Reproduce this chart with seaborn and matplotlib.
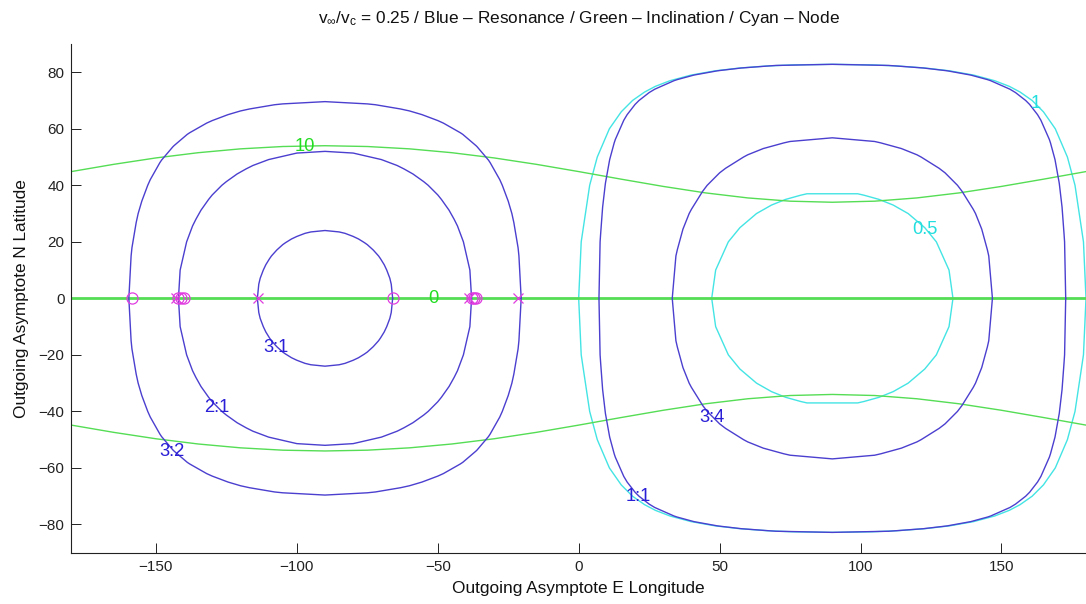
import numpy as np
import matplotlib
matplotlib.use("Agg")
import matplotlib.pyplot as plt
import seaborn as sns

# ---- contour data (one quadrant per closed contour: latitude and half-width in longitude) ----
# resonance contours around the minimum-energy direction (lon -90)
res_3_1_lat = [0, 5, 7.1, 10, 11.9, 14, 15, 17, 17.2, 19, 19.7, 21, 21.9, 23, 23.5, 24.0]
res_3_1_hw = [24.0, 23.5, 23.0, 21.9, 21.0, 19.7, 19.0, 17.2, 17.0, 15.0, 14.0, 11.9, 10.0, 7.1, 5.0, 0.0]
res_2_1_lat = [0, 10, 20, 25.6, 28, 31.2, 35, 36.6, 40, 41.3, 44, 45.8, 47, 49.1, 51.4, 52.0]
res_2_1_hw = [52.0, 51.4, 49.1, 47.0, 45.8, 44.0, 41.3, 40.0, 36.6, 35.0, 31.2, 28.0, 25.6, 20.0, 10.0, 0.0]
res_3_2_lat = [0, 15, 17.9, 26.8, 30, 34.4, 40, 42.0, 48, 48.9, 53.6, 54, 58, 58.6, 62, 62.9,
               65, 66.3, 67, 68.5, 68.8, 69.6]
res_3_2_hw = [69.6, 68.8, 68.5, 67.0, 66.3, 65.0, 62.9, 62.0, 58.6, 58.0, 54.0, 53.6, 48.9, 48.0,
              42.0, 40.0, 34.4, 30.0, 26.8, 17.9, 15.0, 0.0]
# resonance contours around lon +90
res_1_1_lat = [0, 20, 22.9, 32.3, 40, 40.8, 49.1, 55, 56.2, 63.0, 65, 68.6, 70, 72.8, 74, 77,
               77.4, 79, 80.5, 80.6, 81.5, 82.2, 82.4, 82.8]
res_1_1_hw = [82.8, 82.4, 82.2, 81.5, 80.6, 80.5, 79.0, 77.4, 77.0, 74.0, 72.8, 70.0, 68.6, 65.0,
              63.0, 56.2, 55.0, 49.1, 40.8, 40.0, 32.3, 22.9, 20.0, 0.0]
res_3_4_lat = [0, 15, 17.2, 24.5, 30, 31.5, 37.9, 40, 44.4, 46, 50, 50.8, 53, 55, 55.5, 56.8]
res_3_4_hw = [56.8, 55.5, 55.0, 53.0, 50.8, 50.0, 46.0, 44.4, 40.0, 37.9, 31.5, 30.0, 24.5, 17.2, 15.0, 0.0]

# node contours around lon +90
node_1_lat = [0, 20, 40, 50, 60, 66, 70, 73, 75, 77, 79, 80.5, 81.5, 82.2, 82.6, 82.8]
node_1_hw = [90.0, 89.1, 86.1, 83.4, 79.1, 74.9, 70.9, 66.6, 62.8, 57.6, 50.1, 41.6, 32.8, 23.3, 14.2, 0.0]
node_05_lat = [0, 10, 20, 25, 30, 33, 35, 36.5, 37.0]
node_05_hw = [42.8, 41.4, 36.9, 32.8, 26.9, 21.6, 16.6, 11.2, 9.0]

# inclination = 10 deg contour (northern branch), sampled in longitude
incl_lon = [-180, -165, -150, -135, -120, -105, -90, -75, -60, -45, -30, -15, 0,
            15, 30, 45, 60, 75, 90, 105, 120, 135, 150, 165, 180]
incl_10_lat = [44.85, 47.41, 49.68, 51.53, 52.89, 53.72, 54.00, 53.72, 52.89, 51.53, 49.68, 47.41,
               44.85, 42.18, 39.60, 37.31, 35.53, 34.38, 34.00, 34.38, 35.53, 37.31, 39.60, 42.18, 44.85]

# flyby markers on the equator
mark_o_lon = [-158.4, -142.0, -141.0, -140.2, -66.0, -38.0, -37.0, -36.3]
mark_x_lon = [-142.8, -113.9, -38.8, -21.4]

# contour labels: (text, lon, lat)
res_labels = [("3:1", -107.4, -17.5), ("2:1", -128.3, -38.7), ("3:2", -144.3, -54.3),
              ("3:4", 47.3, -42.3), ("1:1", 21.0, -70.2)]
incl_labels = [("10", -97.1, 53.6), ("0", -51.7, 0.0)]
node_labels = [("1", 162.2, 68.8), ("0.5", 122.8, 24.2)]

BLUE = "#4b3fcf"
BLUE_TXT = "#2a1fd6"
GREEN = "#55dd55"
GREEN_TXT = "#22dd22"
CYAN = "#44e4e4"
CYAN_TXT = "#22dede"
MAGENTA = "#e03ce0"


def ring(center, lat_q, hw_q):
    """Closed contour from one quadrant, mirrored about its centre and the equator."""
    lat_q = np.asarray(lat_q, float)
    hw_q = np.asarray(hw_q, float)
    lon = np.concatenate([center + hw_q, center - hw_q[::-1], center - hw_q, center + hw_q[::-1]])
    lat = np.concatenate([lat_q, lat_q[::-1], -lat_q, -lat_q[::-1]])
    return lon, lat


sns.set_theme(style="white")
plt.rcParams["font.family"] = ["Liberation Sans", "DejaVu Sans"]
plt.rcParams["mathtext.fontset"] = "custom"
plt.rcParams["mathtext.rm"] = "Liberation Sans"
plt.rcParams["mathtext.it"] = "Liberation Sans"
plt.rcParams["mathtext.bf"] = "Liberation Sans:bold"

fig = plt.figure(figsize=(10.86, 6.04), dpi=100)
ax = fig.add_axes([0.0657, 0.0849, 0.9343, 0.8423])

lw = 1.0

# node contours (cyan)
for c, la, hw in [(90, node_1_lat, node_1_hw), (90, node_05_lat, node_05_hw)]:
    x, y = ring(c, la, hw)
    sns.lineplot(x=x, y=y, sort=False, estimator=None, color=CYAN, lw=lw, ax=ax)

# inclination contours (green)
sns.lineplot(x=incl_lon, y=incl_10_lat, sort=False, estimator=None, color=GREEN, lw=lw, ax=ax)
sns.lineplot(x=incl_lon, y=[-v for v in incl_10_lat], sort=False, estimator=None,
             color=GREEN, lw=lw, ax=ax)
sns.lineplot(x=[-180, 180], y=[0, 0], sort=False, estimator=None, color=GREEN, lw=2.0, ax=ax)

# resonance contours (blue)
for c, la, hw in [(-90, res_3_1_lat, res_3_1_hw), (-90, res_2_1_lat, res_2_1_hw),
                  (-90, res_3_2_lat, res_3_2_hw), (90, res_1_1_lat, res_1_1_hw),
                  (90, res_3_4_lat, res_3_4_hw)]:
    x, y = ring(c, la, hw)
    sns.lineplot(x=x, y=y, sort=False, estimator=None, color=BLUE, lw=lw, ax=ax)

# markers
sns.lineplot(x=mark_o_lon, y=[0] * len(mark_o_lon), sort=False, estimator=None, ax=ax,
             linestyle="none", marker="o", markersize=8, markerfacecolor="none",
             markeredgecolor=MAGENTA, markeredgewidth=0.9)
sns.lineplot(x=mark_x_lon, y=[0] * len(mark_x_lon), sort=False, estimator=None, ax=ax,
             linestyle="none", marker="x", markersize=7, markeredgecolor=MAGENTA,
             markeredgewidth=0.9)

fs_tick = 11
fs_lab = 12.4
fs_clab = 13.2
for txt, x, y in res_labels:
    ax.text(x, y, txt, color=BLUE_TXT, fontsize=fs_clab, ha="center", va="center")
for txt, x, y in incl_labels:
    ax.text(x, y, txt, color=GREEN_TXT, fontsize=fs_clab, ha="center", va="center")
for txt, x, y in node_labels:
    ax.text(x, y, txt, color=CYAN_TXT, fontsize=fs_clab, ha="center", va="center")

ax.set_xlim(-180, 180)
ax.set_ylim(-90, 90)
ax.set_xticks([-150, -100, -50, 0, 50, 100, 150])
ax.set_yticks([-80, -60, -40, -20, 0, 20, 40, 60, 80])
ax.set_xticklabels(["\u2212150", "\u2212100", "\u221250", "0", "50", "100", "150"])
ax.set_yticklabels(["\u221280", "\u221260", "\u221240", "\u221220", "0", "20", "40", "60", "80"])
ax.tick_params(direction="in", length=7, width=0.7, bottom=True, left=True,
               labelsize=fs_tick, colors="#222222", pad=5)
ax.grid(False)
for side in ("top", "right"):
    ax.spines[side].set_visible(False)
for side in ("left", "bottom"):
    ax.spines[side].set_color("#222222")
    ax.spines[side].set_linewidth(0.8)

ax.set_xlabel("Outgoing Asymptote E Longitude", fontsize=fs_lab, color="#111111", labelpad=5)
ax.set_ylabel("Outgoing Asymptote N Latitude", fontsize=fs_lab, color="#111111", labelpad=7)
title = ("v$_{\\infty}$/v$_{\\mathrm{c}}$ = 0.25 / Blue \u2013 Resonance / "
         "Green \u2013 Inclination / Cyan \u2013 Node")
ax.set_title(title, fontsize=fs_lab, color="#111111", pad=15)

fig.savefig("out.png", dpi=100)
